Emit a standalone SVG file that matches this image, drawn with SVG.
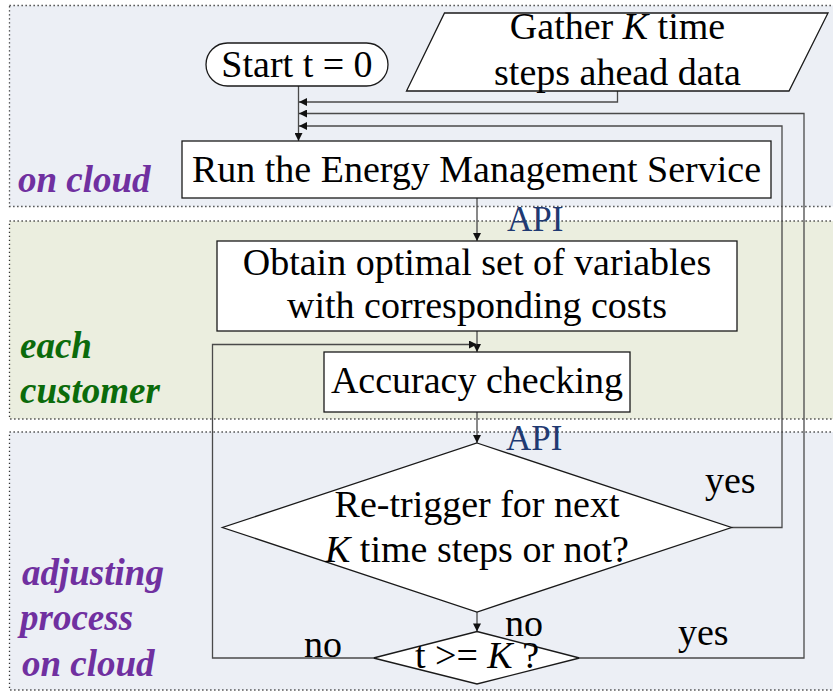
<svg xmlns="http://www.w3.org/2000/svg" width="833" height="692" viewBox="0 0 833 692">
  <defs>
    <marker id="arrow" viewBox="0 0 10 10" refX="10" refY="5" markerWidth="9" markerHeight="8" markerUnits="userSpaceOnUse" orient="auto">
      <path d="M0,0 L10,5 L0,10 Z" fill="#111"/>
    </marker>
  </defs>
  <style>
    .panel { stroke: #333; stroke-width: 1.3; stroke-dasharray: 1.3 2.7; }
    .cloud { fill: #eceff5; }
    .cust { fill: #ebeedf; }
    .shape { fill: #ffffff; stroke: #1a1a1a; stroke-width: 1.3; }
    .txt { font-family: "Liberation Serif", "Times New Roman", serif; font-size: 38px; fill: #000; }
    .mid { text-anchor: middle; }
    .api { font-family: "Liberation Serif", "Times New Roman", serif; font-size: 35px; fill: #1f3a72; }
    .zone { font-family: "Liberation Serif", "Times New Roman", serif; font-size: 37px; font-weight: bold; font-style: italic; }
    .purple { fill: #7030a0; }
    .green { fill: #0b6b0b; }
    .conn { fill: none; stroke: #4a4a4a; stroke-width: 1.3; }
    .k { font-style: italic; }
  </style>

  <!-- swim-lane panels -->
  <g id="lanes">
    <rect class="panel cloud" x="9.5" y="5.5" width="840" height="201"/>
    <rect class="panel cust" x="9.5" y="221" width="840" height="198"/>
    <rect class="panel cloud" x="9.5" y="432" width="840" height="258"/>
    <text class="zone purple" x="18" y="192">on cloud</text>
    <text class="zone green" x="20" y="358">each</text>
    <text class="zone green" x="20" y="403">customer</text>
    <text class="zone purple" x="22" y="585">adjusting</text>
    <text class="zone purple" x="20" y="630">process</text>
    <text class="zone purple" x="22" y="676">on cloud</text>
  </g>

  <!-- connectors -->
  <g id="connectors">
    <path class="conn" d="M298.5,86 V141" marker-end="url(#arrow)"/>
    <path class="conn" d="M617.5,91 V102 H299" marker-end="url(#arrow)"/>
    <path class="conn" d="M579.5,658 H804 V113.5 H299" marker-end="url(#arrow)"/>
    <path class="conn" d="M731.5,527.5 H782 V126 H299" marker-end="url(#arrow)"/>
    <path class="conn" d="M477,198 V241" marker-end="url(#arrow)"/>
    <path class="conn" d="M477,331 V352" marker-end="url(#arrow)"/>
    <path class="conn" d="M373.5,658 H212.5 V344.5 H477" marker-end="url(#arrow)"/>
    <path class="conn" d="M477,412 V443" marker-end="url(#arrow)"/>
    <path class="conn" d="M477,612 V631.5" marker-end="url(#arrow)"/>
    <text class="api" x="507" y="231">API</text>
    <text class="api" x="506" y="450">API</text>
    <text class="txt" x="705" y="493">yes</text>
    <text class="txt" x="505" y="636">no</text>
    <text class="txt" x="678" y="645">yes</text>
    <text class="txt" x="304" y="657">no</text>
  </g>

  <g id="start">
    <rect class="shape" x="206" y="43" width="182" height="43" rx="21.5"/>
    <text class="txt mid" x="297" y="77">Start t = 0</text>
  </g>

  <g id="gather">
    <polygon class="shape" points="444.5,13 828,13 789,91 406.5,91"/>
    <text class="txt mid" x="617.5" y="39">Gather <tspan class="k">K</tspan> time</text>
    <text class="txt mid" x="617.5" y="85">steps ahead data</text>
  </g>

  <g id="ems">
    <rect class="shape" x="182" y="141" width="589" height="57"/>
    <text class="txt mid" x="476.5" y="182">Run the Energy Management Service</text>
  </g>

  <g id="obtain">
    <rect class="shape" x="217" y="241" width="520" height="90"/>
    <text class="txt mid" x="477" y="275">Obtain optimal set of variables</text>
    <text class="txt mid" x="477" y="318">with corresponding costs</text>
  </g>

  <g id="accuracy">
    <rect class="shape" x="324" y="352" width="306" height="60"/>
    <text class="txt mid" x="477" y="393">Accuracy checking</text>
  </g>

  <g id="retrigger">
    <polygon class="shape" points="477,443 731.5,527.5 477,612 222.5,527.5"/>
    <text class="txt mid" x="477" y="517">Re-trigger for next</text>
    <text class="txt mid" x="477" y="561.5"><tspan class="k">K</tspan> time steps or not?</text>
  </g>

  <g id="horizon">
    <polygon class="shape" points="477,631.5 579.5,658 477,684 373.5,658"/>
    <text class="txt mid" x="477" y="668">t &gt;= <tspan class="k">K</tspan> ?</text>
  </g>
</svg>
